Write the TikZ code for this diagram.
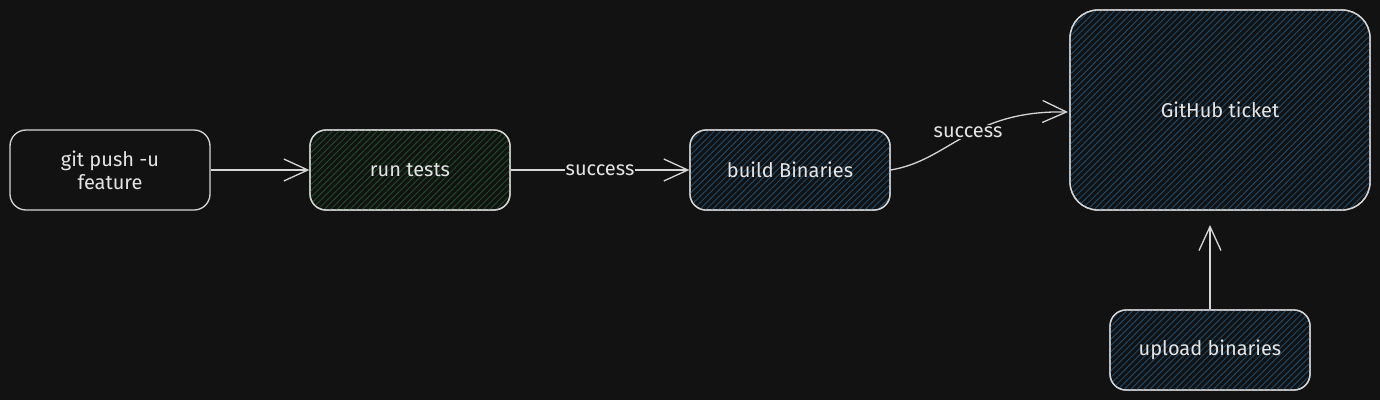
\documentclass[tikz,border=0pt]{standalone}
\usepackage{fontspec}
\setmainfont{Fira Sans}
\usetikzlibrary{arrows.meta,patterns.meta}
\definecolor{bg}{HTML}{121212}
\definecolor{ink}{HTML}{D6D6D6}
\definecolor{txt}{HTML}{E4E4E4}
\definecolor{hgreen}{HTML}{1E4A26}
\definecolor{hblue}{HTML}{1C4768}
\tikzset{
  x=1pt, y=-1pt,
  box/.style={draw=ink, line width=1.3pt, rounded corners=16pt, minimum width=200pt, minimum height=80pt, align=center, text=txt, font=\fontsize{20}{23}\selectfont, inner sep=0pt},
  greenfill/.style={fill=bg, postaction={pattern={Lines[angle=45,distance=4.5pt,line width=1pt]}, pattern color=hgreen}, postaction={draw=ink, line width=1.3pt}},
  bluefill/.style={fill=bg, postaction={pattern={Lines[angle=45,distance=4.5pt,line width=1pt]}, pattern color=hblue}, postaction={draw=ink, line width=1.3pt}},
  conn/.style={draw=ink, line width=1.3pt, -{Straight Barb[length=24pt,width=22pt,line width=1.3pt]}},
  lbl/.style={fill=bg, text=txt, font=\fontsize{20}{23}\selectfont, inner sep=1pt},
}
\begin{document}
\begin{tikzpicture}
\fill[bg] (0,0) rectangle (1380,400);
\useasboundingbox (0,0) rectangle (1380,400);
\node[box] (git) at (110,170) {git push -u\\feature};
\node[box, greenfill] (tests) at (410,170) {run tests};
\node[box, bluefill] (build) at (790,170) {build Binaries};
\node[box, bluefill, minimum width=300pt, minimum height=200pt, rounded corners=28pt] (gh) at (1220,110) {};
\node[text=txt, font=\fontsize{20}{23}\selectfont] (ghl) at (1220,110) {GitHub ticket};
\node[box, bluefill] (up) at (1210,350) {upload binaries};
\coordinate (ghin) at (1068,112);
\coordinate (ghbot) at (1210,225);
\draw[conn] (git.east) -- (tests.west);
\draw[conn] (tests.east) -- (build.west);
\node[lbl] (s1) at (600,170) {success};
\draw[conn] (build.east) .. controls (950,160) and (970,110) .. (ghin);
\node[lbl] (s2) at (968,132) {success};
\draw[conn] (up.north) -- (ghbot);
\end{tikzpicture}
\end{document}
